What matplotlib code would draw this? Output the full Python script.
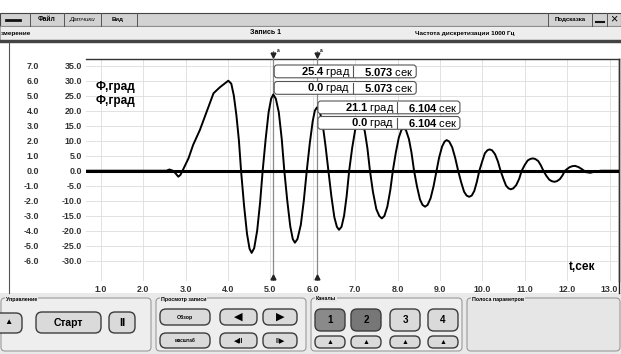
import matplotlib
matplotlib.use("Agg")
import matplotlib.pyplot as plt
from matplotlib.patches import FancyBboxPatch, Rectangle

plt.rcParams['font.family'] = ['Liberation Sans', 'DejaVu Sans']
plt.rcParams['mathtext.fontset'] = 'custom'
plt.rcParams['mathtext.rm'] = 'Liberation Sans'
plt.rcParams['mathtext.bf'] = 'Liberation Sans:bold'

# --- data ---
t_sec = [0.60, 2.55, 2.62, 2.70, 2.76, 2.83, 2.88, 2.93,
         3.07, 3.18, 3.34, 3.50, 3.66, 3.81, 3.92, 4.01, 4.08, 4.14, 4.20, 4.26, 4.31,
         4.38, 4.45, 4.51, 4.56, 4.62, 4.69, 4.76, 4.82,
         4.89, 4.96, 5.02, 5.07, 5.13, 5.20, 5.27, 5.33,
         5.40, 5.47, 5.53, 5.58, 5.64, 5.72, 5.79, 5.86,
         5.93, 6.00, 6.05, 6.10, 6.16, 6.23, 6.30, 6.37,
         6.44, 6.51, 6.57, 6.62, 6.68, 6.74, 6.80, 6.86,
         6.93, 7.00, 7.05, 7.10, 7.16, 7.23, 7.29, 7.35,
         7.42, 7.50, 7.57, 7.63, 7.69, 7.76, 7.83, 7.89,
         7.96, 8.03, 8.09, 8.14, 8.20, 8.27, 8.33, 8.39,
         8.46, 8.53, 8.59, 8.65, 8.71, 8.78, 8.85, 8.92,
         8.98, 9.05, 9.11, 9.16, 9.22, 9.29, 9.36, 9.43,
         9.50, 9.57, 9.63, 9.69, 9.75, 9.81, 9.87, 9.93,
         10.00, 10.06, 10.12, 10.17, 10.23, 10.30, 10.37, 10.43,
         10.50, 10.56, 10.62, 10.67, 10.73, 10.80, 10.87, 10.93,
         11.00, 11.07, 11.13, 11.19, 11.25, 11.32, 11.38, 11.44,
         11.51, 11.58, 11.64, 11.70, 11.76, 11.83, 11.89, 11.95,
         12.05, 12.12, 12.19, 12.27, 12.35, 12.45, 12.55, 12.65, 12.80, 13.30]
phi_deg = [0, 0, 0.4, 0, -0.8, -2.0, -1.4, 0,
           4.1, 8.6, 13.6, 19.7, 25.8, 27.8, 29.0, 30.0, 29.0, 25.0, 18.5, 10.0, 0,
           -11.5, -21.0, -26.0, -27.4, -25.8, -20.0, -10.5, 0,
           10.5, 19.5, 24.0, 25.4, 24.0, 19.5, 10.5, 0,
           -10, -18.5, -22.8, -24.0, -22.8, -18.0, -10, 0,
           9, 16.5, 20.0, 21.1, 20.0, 16.0, 8.5, 0,
           -8.5, -15.5, -18.7, -19.7, -18.7, -15.0, -8.5, 0,
           7.5, 13.5, 16.6, 17.5, 16.6, 13.0, 7.5, 0,
           -7, -12.8, -15.1, -15.9, -15.1, -12.0, -6.5, 0,
           6, 11, 13.5, 14.2, 13.5, 10.5, 6, 0,
           -5.3, -9.6, -11.4, -12.0, -11.4, -9.2, -5.2, 0,
           4.3, 8.0, 9.7, 10.2, 9.7, 7.8, 4.3, 0,
           -3.8, -7.0, -8.3, -8.7, -8.3, -6.8, -3.8, 0,
           3.2, 5.8, 6.8, 7.1, 6.8, 5.5, 3.0, 0,
           -2.8, -5.0, -5.9, -6.2, -5.9, -4.8, -2.7, 0,
           1.9, 3.4, 3.9, 4.1, 3.9, 3.2, 1.8, 0,
           -1.7, -3.0, -3.5, -3.7, -3.5, -2.8, -1.6, 0,
           1.1, 1.5, 1.6, 1.2, 0.5, -0.5, -0.7, -0.3, 0, 0]
# second channel stays at zero
t2_sec = [0.60, 13.30]
phi2_deg = [0.0, 0.0]

cursor_t = [5.073, 6.104]
cursor_phi = [25.4, 21.1]
cursor_phi2 = [0.0, 0.0]

x_ticks = [1, 2, 3, 4, 5, 6, 7, 8, 9, 10, 11, 12, 13]
deg_ticks = [-30, -25, -20, -15, -10, -5, 0, 5, 10, 15, 20, 25, 30, 35]
left_ticks = [-6, -5, -4, -3, -2, -1, 0, 1, 2, 3, 4, 5, 6, 7]

W, H = 621, 354
fig = plt.figure(figsize=(W / 100, H / 100), dpi=100, facecolor='white')

# background ui layer in pixel coords
ui = fig.add_axes([0, 0, 1, 1], zorder=-5)
ui.set_xlim(0, W)
ui.set_ylim(H, 0)
ui.axis('off')

def box(a, x, y, w, h, fc, ec='#555555', lw=0.8, r=0.0, z=1):
    if r > 0:
        p = FancyBboxPatch((x, y), w, h, boxstyle=f"round,pad=0,rounding_size={r}",
                           fc=fc, ec=ec, lw=lw, zorder=z)
    else:
        p = Rectangle((x, y), w, h, fc=fc, ec=ec, lw=lw, zorder=z)
    a.add_patch(p)

# top menu bar
box(ui, 0, 13, W, 13, '#d2d2d2', '#444444', 0.8)
for xd in [30, 64, 101, 137, 548, 592, 607]:
    ui.plot([xd, xd], [13, 26], color='#555555', lw=0.7)
ui.plot([6, 20], [19.5, 19.5], color='#111111', lw=2)
ui.text(47, 19.5, 'Файл', fontsize=4.8, fontweight='bold', ha='center', va='center')
ui.text(82, 19.5, 'Датчики', fontsize=4.4, style='italic', ha='center', va='center')
ui.text(118, 19.5, 'Вид', fontsize=4.4, fontweight='bold', ha='center', va='center')
ui.text(570, 19.5, 'Подсказка', fontsize=4.4, fontweight='bold', ha='center', va='center')
ui.plot([596, 604], [22, 22], color='#111111', lw=1.5)
ui.text(614, 19.5, '×', fontsize=9, ha='center', va='center')

# status bar
box(ui, 0, 26, W, 14, '#ededed', '#888888', 0.5)
ui.text(1, 33, 'змерение', fontsize=4.6, fontweight='bold', ha='left', va='center')
ui.text(265, 33, 'Запись 1', fontsize=5, fontweight='bold', ha='center', va='center')
ui.text(465, 33, 'Частота дискретизации 1000 Гц', fontsize=4.6, fontweight='bold',
        ha='center', va='center')
box(ui, 0, 40, W, 2.5, '#444444', '#444444', 0.3)

# window frame lines around chart
ui.plot([9, 9], [42, 293], color='#555555', lw=0.8)
ui.plot([619, 619], [59, 293], color='#222222', lw=1.0)

# bottom control panels
box(ui, 0, 293, W, 61, '#e9e9e9', 'none', 0)
panels = [(0, 152, 'Управление'), (155, 307, 'Просмотр записи'),
          (310, 463, 'Каналы'), (466, 621, 'Полоса параметров')]
for x0, x1, name in panels:
    box(ui, x0 + 1, 298, x1 - x0 - 2, 53, '#eeeeee' if x0 < 466 else '#e6e6e6',
        '#9a9a9a', 0.8, r=4)
    ui.text(x0 + 6, 299, name, fontsize=3.8, fontweight='bold', ha='left', va='center',
            bbox=dict(fc='#e9e9e9', ec='none', pad=0.6))

def button(x, y, w, h, label, fs, fc='#dadada', color='black', weight='bold'):
    box(ui, x, y, w, h, fc, '#3c3c3c', 1.0, r=min(h / 2.2, 6), z=3)
    ui.text(x + w / 2, y + h / 2, label, fontsize=fs, fontweight=weight, ha='center',
            va='center', color=color, zorder=4)

button(-6, 313, 28, 20, '▲', 6)
button(36, 312, 65, 21, 'Старт', 7.5)
button(109, 312, 26, 21, 'II', 8)
button(160, 309, 50, 16, 'Обзор', 3.8)
button(220, 309, 37, 16, '◀', 8)
button(263, 309, 34, 16, '▶', 8)
button(160, 333, 50, 15, 'масштаб', 3.4)
button(220, 333, 37, 15, '◀II', 5)
button(263, 333, 34, 15, 'II▶', 5)
for i, (xb, fc) in enumerate(zip([315, 351, 390, 428],
                                  ['#8a8a8a', '#777777', '#dadada', '#dadada'])):
    button(xb, 309, 30, 22, str(i + 1), 7, fc=fc)
    button(xb, 336, 30, 12, '▲', 5)

# --- main chart ---
ax = fig.add_axes([86 / W, 1 - 281 / H, 533 / W, 222 / H], zorder=1)
ax.set_facecolor('none')
ax.set_xlim(0.653, 13.224)
ax.set_ylim(-36.77, 37.23)
ax.grid(True, color='#dddddd', lw=0.6)
ax.set_axisbelow(True)
ax.plot(t2_sec, phi2_deg, color='black', lw=2.2, solid_capstyle='butt', zorder=3)
ax.plot(t_sec, phi_deg, color='black', lw=1.4, solid_joinstyle='round', zorder=4)
for tc in cursor_t:
    ax.axvline(tc, color='#8a8a8a', lw=0.9, zorder=2)
    ax.plot([tc], [ax.get_ylim()[0] + 1.3], marker='^', ms=3.5, color='#222222',
            clip_on=False, zorder=5)

ax.set_xticks(x_ticks)
ax.set_xticklabels([f"{v:.1f}" for v in x_ticks])
ax.set_yticks(deg_ticks)
ax.set_yticklabels([f"{v:.1f}" for v in deg_ticks])
ax.tick_params(length=0, labelsize=6.4, labelcolor='#333333', pad=3)
for lab in ax.get_xticklabels() + ax.get_yticklabels():
    lab.set_fontweight('bold')
for s in ['left', 'bottom']:
    ax.spines[s].set_visible(False)
for s in ['top', 'right']:
    ax.spines[s].set_color('#333333')
    ax.spines[s].set_linewidth(1.0)

sec = ax.secondary_yaxis(-0.088, functions=(lambda y: y / 5, lambda y: y * 5))
sec.set_yticks(left_ticks)
sec.set_yticklabels([f"{v:.1f}" for v in left_ticks])
sec.tick_params(length=0, labelsize=6.4, labelcolor='#333333', pad=0)
sec.spines['left'].set_visible(False)
for lab in sec.get_yticklabels():
    lab.set_fontweight('bold')

ax.text(0.018, 0.875, 'Ф,град', transform=ax.transAxes, fontsize=8.5,
        fontweight='bold', ha='left', va='center')
ax.text(0.018, 0.81, 'Ф,град', transform=ax.transAxes, fontsize=8.5,
        fontweight='bold', ha='left', va='center')
ax.text(0.93, 0.065, 't,сек', transform=ax.transAxes, fontsize=8.5,
        fontweight='bold', ha='center', va='center')

# --- overlay for cursor readouts ---
top = fig.add_axes([0, 0, 1, 1], zorder=10)
top.set_xlim(0, W)
top.set_ylim(H, 0)
top.axis('off')

def px(t, v):
    d = ax.transData.transform((t, v))
    return d[0], H - d[1]

rows = [(65, 81.5), (101, 116.5)]
for tc, v1, v2, (y1, y2) in zip(cursor_t, cursor_phi, cursor_phi2, rows):
    xc, _ = px(tc, 0)
    top.plot([xc, xc], [51, 59], color='#8a8a8a', lw=0.9)
    top.plot([xc], [54.5], marker='v', ms=3.5, color='#222222')
    top.text(xc + 3, 50.5, 'a', fontsize=3.5, fontweight='bold', ha='left', va='center')
    for yb, val in [(y1, v1), (y2, v2)]:
        bx = xc + 0.8
        box(top, bx, yb, 142, 12.8, 'white', '#555555', 0.8, r=3, z=6)
        top.plot([bx + 78.6, bx + 78.6], [yb + 1, yb + 11.8], color='#555555', lw=0.8, zorder=7)
        top.text(bx + 76.3, yb + 6.6, rf"$\mathbf{{{val:.1f}}}$ град", fontsize=8,
                 ha='right', va='center', zorder=8)
        top.text(bx + 139.5, yb + 6.6, rf"$\mathbf{{{tc:.3f}}}$ сек", fontsize=8,
                 ha='right', va='center', zorder=8)

fig.savefig('out.png', dpi=100, facecolor='white')
